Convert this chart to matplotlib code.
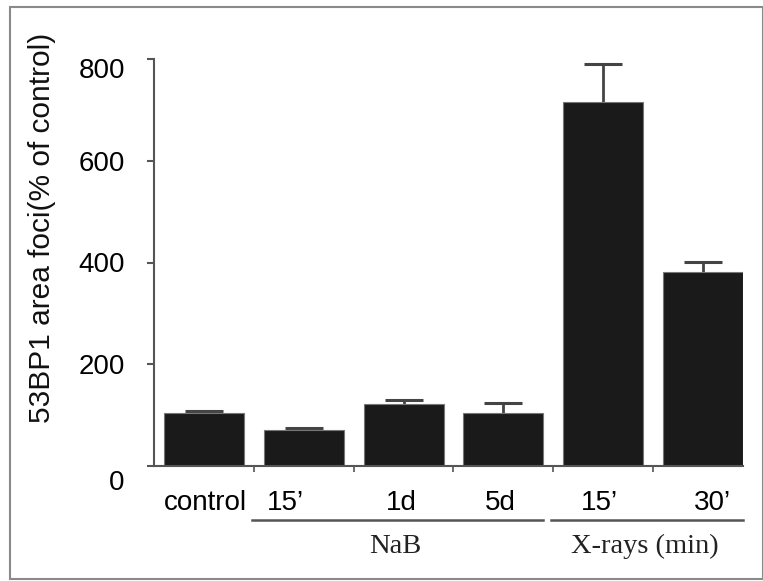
import matplotlib
matplotlib.use("Agg")
import matplotlib.pyplot as plt
import matplotlib.transforms as mtransforms
from matplotlib.patches import Rectangle
import numpy as np

categories = ["control", "15\u2019", "1d", "5d", "15\u2019", "30\u2019"]
values = [104, 71, 122, 104, 715, 381]
errors = [4, 4, 8, 20, 75, 20]
yticks = [0, 200, 400, 600, 800]
groups = [("NaB", 1, 3), ("X-rays (min)", 4, 5)]
ylabel = "53BP1 area foci(% of control)"

W, H = 763, 581
fig = plt.figure(figsize=(W / 100, H / 100), dpi=100)
fig.patch.set_facecolor("white")

# figure frame
fig.patches.append(Rectangle((10 / W, 2 / H), (W - 10) / W, (H - 9) / H,
                             transform=fig.transFigure, fill=False,
                             edgecolor="#8a8a8a", linewidth=1.5))

ax = fig.add_axes([154 / W, 1 - 466 / H, (743 - 154) / W, (466 - 59) / H])
x = np.arange(len(categories))
vals = np.array(values, dtype=float)
errs = np.array(errors, dtype=float)
ax.bar(x, vals, width=0.80, color="#1a1a1a", edgecolor="#777777",
       linewidth=0.8, zorder=2)
# upper-only error bars (stem + single cap)
ax.errorbar(x, vals, yerr=[np.zeros(len(errs)), errs], fmt="none",
            ecolor="#444444", elinewidth=2, capsize=0, zorder=1)
ax.plot(x, vals + errs, linestyle="none", marker="_", markersize=28,
        markeredgewidth=2.2, color="#444444", zorder=1)

ax.set_xlim(-0.5, len(categories) - 1 + 0.40)
ax.set_ylim(0, 800)
for s in ["top", "right"]:
    ax.spines[s].set_visible(False)
for s in ["left", "bottom"]:
    ax.spines[s].set_color("#555555")
    ax.spines[s].set_linewidth(1.5)

ax.set_yticks(yticks)
ax.set_yticklabels([str(v) for v in yticks], fontsize=20,
                   family="Liberation Sans")
ax.tick_params(axis="y", direction="out", length=5, width=1.5,
               color="#555555", pad=16)
yoff = {0: -14, 800: -9}
for lab, v in zip(ax.get_yticklabels(), yticks):
    if v in yoff:
        lab.set_transform(lab.get_transform() +
                          mtransforms.ScaledTranslation(0, yoff[v] / 100, fig.dpi_scale_trans))

# x ticks at category boundaries, labels centered under bars
ax.set_xticks(np.arange(len(categories) - 1) + 0.5)
ax.set_xticklabels([])
ax.tick_params(axis="x", direction="out", length=4, width=1.2,
               color="#555555")
ax.set_xticks(x, minor=True)
ax.set_xticklabels(categories, minor=True, fontsize=20,
                   family="Liberation Sans")
ax.tick_params(axis="x", which="minor", length=0, pad=17)
xoff = [2, -18, -2, -3, -4, 9]
for lab, dx in zip(ax.get_xticklabels(minor=True), xoff):
    lab.set_transform(lab.get_transform() +
                      mtransforms.ScaledTranslation(dx / 100, 0, fig.dpi_scale_trans))

# group lines and labels
trans = mtransforms.blended_transform_factory(ax.transData, ax.transAxes)
for name, i0, i1 in groups:
    ax.plot([i0 - 0.52, i1 + 0.40], [-0.133, -0.133], transform=trans,
            color="#555555", linewidth=1.8, clip_on=False)
    ax.text((i0 + i1) / 2 - 0.08, -0.197, name, transform=trans,
            ha="center", va="center", fontsize=20.5,
            family="Liberation Serif", color="#222222")

fig.text(42 / W, 1 - 228 / H, ylabel, rotation=90, ha="center", va="center",
         fontsize=21.5, family="Liberation Sans", color="#111111")

fig.savefig("out.png", dpi=100)
